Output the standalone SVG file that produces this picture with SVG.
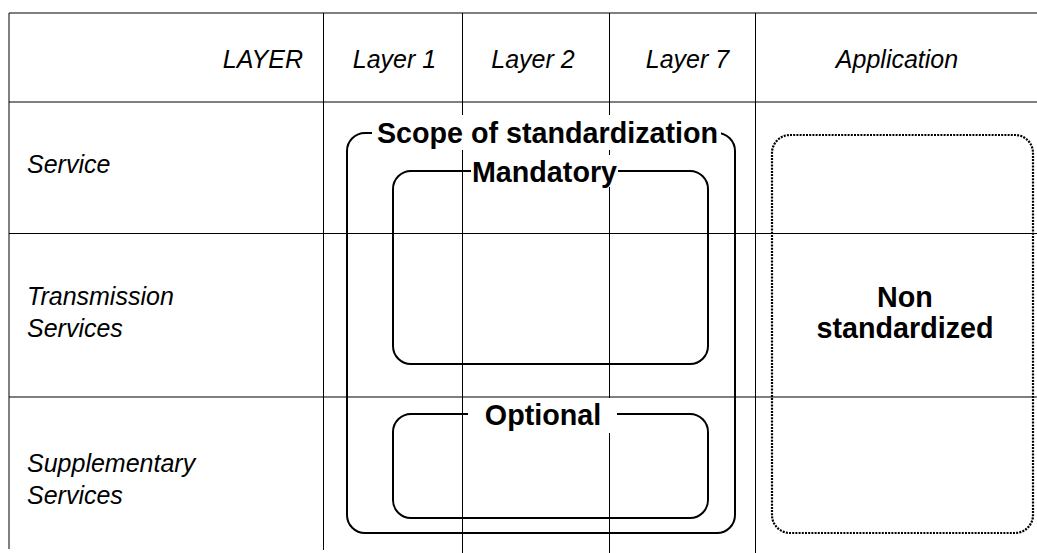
<svg xmlns="http://www.w3.org/2000/svg" width="1037" height="553" viewBox="0 0 1037 553">
  <style>
    .grid { stroke: #000; stroke-width: 1; fill: none; }
    .hdr { font-family: "Liberation Sans", Arial, sans-serif; font-style: italic; font-size: 25px; fill: #000; }
    .lbl { font-family: "Liberation Sans", Arial, sans-serif; font-weight: bold; font-size: 28.7px; fill: #000; text-anchor: middle; }
    .box { fill: none; stroke: #000; stroke-width: 2; }
    .dotted { fill: none; stroke: #000; stroke-width: 2.2; stroke-dasharray: 2 1.2; }
    .mask { fill: #fff; stroke: none; }
  </style>
  <rect width="1037" height="553" fill="#fff"/>

  <!-- table grid -->
  <g id="grid" class="grid">
    <line x1="9" y1="13" x2="1037" y2="13"/>
    <line x1="9" y1="102" x2="1037" y2="102"/>
    <line x1="9" y1="233.5" x2="1037" y2="233.5"/>
    <line x1="9" y1="397" x2="1037" y2="397"/>
    <line x1="9" y1="13" x2="9" y2="549"/>
    <line x1="323.5" y1="13" x2="323.5" y2="550"/>
    <line x1="462.5" y1="13" x2="462.5" y2="553"/>
    <line x1="609.5" y1="13" x2="609.5" y2="553"/>
    <line x1="755.5" y1="13" x2="755.5" y2="553"/>
  </g>

  <!-- header row -->
  <g id="header">
    <text class="hdr" x="303" y="68" text-anchor="end">LAYER</text>
    <text class="hdr" x="394.5" y="68" text-anchor="middle">Layer 1</text>
    <text class="hdr" x="533" y="68" text-anchor="middle">Layer 2</text>
    <text class="hdr" x="687.5" y="68" text-anchor="middle">Layer 7</text>
    <text class="hdr" x="897" y="68" text-anchor="middle">Application</text>
  </g>

  <!-- row titles -->
  <g id="rows">
    <text class="hdr" x="27" y="173">Service</text>
    <text class="hdr" x="27" y="305">Transmission</text>
    <text class="hdr" x="27" y="337">Services</text>
    <text class="hdr" x="27" y="472">Supplementary</text>
    <text class="hdr" x="27" y="504">Services</text>
  </g>

  <!-- scope of standardization -->
  <g id="scope">
    <rect class="box" x="347" y="133" width="388" height="400" rx="18"/>
    <rect class="mask" x="372" y="115" width="349" height="35"/>
    <text class="lbl" x="547.5" y="143">Scope of standardization</text>
  </g>

  <!-- mandatory part -->
  <g id="mandatory">
    <rect class="box" x="393" y="171" width="315" height="193" rx="18"/>
    <rect class="mask" x="471" y="155" width="147" height="32"/>
    <text class="lbl" x="544.5" y="182">Mandatory</text>
  </g>

  <!-- optional part -->
  <g id="optional">
    <rect class="box" x="393" y="414" width="315" height="104" rx="18"/>
    <rect class="mask" x="468" y="398" width="149" height="35"/>
    <text class="lbl" x="543" y="425">Optional</text>
  </g>

  <!-- application area -->
  <g id="non-standardized">
    <rect class="dotted" x="772" y="135" width="261" height="398" rx="18"/>
    <text class="lbl" x="905" y="307">Non</text>
    <text class="lbl" x="905" y="338">standardized</text>
  </g>
</svg>
